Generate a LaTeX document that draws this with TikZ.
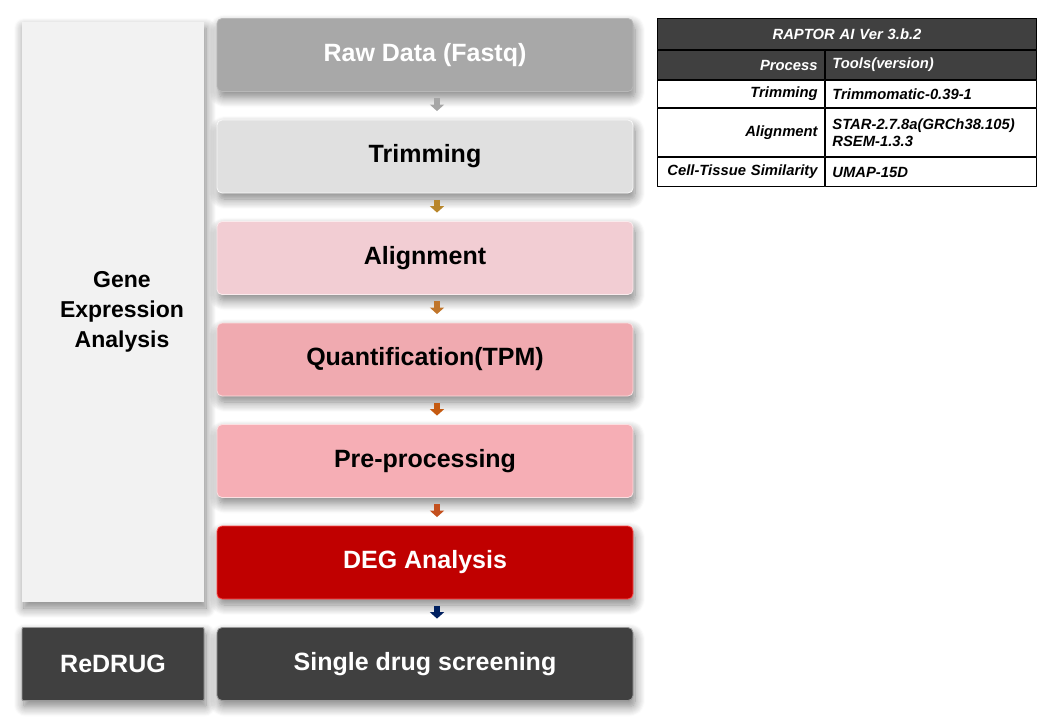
\documentclass[tikz,border=0pt]{standalone}
\usepackage{fontspec}
\setmainfont{Liberation Sans}
\usetikzlibrary{
  arrows.meta,
  positioning,
  shadows.blur
}
\definecolor{ink}{HTML}{000000}
\definecolor{rawgray}{HTML}{999999}
\definecolor{trimgray}{HTML}{E0E0E0}
\definecolor{alignpink}{HTML}{F2CDD3}
\definecolor{quantpink}{HTML}{F0AAB0}
\definecolor{prepink}{HTML}{F6AEB5}
\definecolor{degred}{HTML}{C00000}
\definecolor{darkgray}{HTML}{404040}
\definecolor{panelbg}{HTML}{F2F2F2}
\definecolor{arr1}{HTML}{A6A6A6}
\definecolor{arr2}{HTML}{B8862B}
\definecolor{arr3}{HTML}{C0752A}
\definecolor{arr4}{HTML}{C55A11}
\definecolor{arr5}{HTML}{C4501E}
\definecolor{arr6}{HTML}{002060}
\tikzset{
  every picture/.style={line cap=round, line join=round},
  shadow/.style={
    blur shadow={
      shadow blur steps=10,
      shadow blur radius=10pt,
      shadow xshift=2pt,
      shadow yshift=-6pt,
      shadow opacity=50
    }
  },
  flowbox/.style={
    rectangle,
    rounded corners=5pt,
    minimum width=416pt,
    minimum height=73pt,
    inner sep=0pt,
    line width=0.8pt,
    font=\fontsize{25}{30}\selectfont\bfseries,
    shadow
  },
  rawbox/.style={flowbox, top color=rawgray!85, bottom color=rawgray!110!black, draw=rawgray!70, text=white},
  trimbox/.style={flowbox, fill=trimgray, draw=white!80!trimgray, text=ink},
  alignbox/.style={flowbox, fill=alignpink, draw=white!60!alignpink, text=ink},
  quantbox/.style={flowbox, fill=quantpink, draw=white!60!quantpink, text=ink},
  prebox/.style={flowbox, fill=prepink, draw=white!60!prepink, text=ink},
  degbox/.style={flowbox, fill=degred, draw=red!70!white, text=white},
  darkbox/.style={flowbox, fill=darkgray, draw=gray!80, text=white},
  panel/.style={
    rectangle,
    fill=panelbg,
    minimum width=182pt,
    minimum height=580pt,
    shadow
  },
  paneltext/.style={
    align=center,
    font=\fontsize{23}{30}\selectfont\bfseries,
    text=ink
  },
  flowarrow/.style={
    line width=6pt,
    line cap=butt,
    -{Triangle[width=14pt,length=6.5pt]},
    shorten <=6.5pt,
    shorten >=8.5pt
  },
  tcell/.style={
    rectangle,
    draw=ink,
    line width=0.8pt,
    inner xsep=7pt,
    inner ysep=0pt,
    font=\fontsize{14.8}{17}\selectfont\bfseries\itshape,
    text=ink,
    anchor=north west
  },
  tleft/.style={tcell, text width=153.2pt, align=right},
  tright/.style={tcell, text width=197.2pt, align=left},
  tdark/.style={fill=darkgray, text=white}
}

\begin{document}
\begin{tikzpicture}[x=1pt, y=-1pt]
  \useasboundingbox (0,0) rectangle (1059,717);

  % Left panel
  \node[panel] (gea) at (113,312) {};
  \node[paneltext] (geatext) at ([xshift=9pt]gea.center) {Gene\\Expression\\Analysis};

  % Workflow boxes
  \node[rawbox] (raw) at (425,55) {Raw Data (Fastq)};
  \node[trimbox, below=27.7pt of raw] (trim) {Trimming};
  \node[alignbox, below=27.7pt of trim] (align) {Alignment};
  \node[quantbox, below=27.7pt of align] (quant) {Quantification(TPM)};
  \node[prebox, below=27.7pt of quant] (prep) {Pre-processing};
  \node[degbox, below=27.7pt of prep] (deg) {DEG Analysis};
  \node[darkbox, below=27.7pt of deg] (drug) {Single drug screening};
  \node[darkbox, rounded corners=1pt, minimum width=182pt] (redrug) at (gea |- drug) {ReDRUG};

  % Small arrows between steps
  \draw[flowarrow, draw=arr1] ([xshift=12pt]raw.south) -- ([xshift=12pt]trim.north);
  \draw[flowarrow, draw=arr2] ([xshift=12pt]trim.south) -- ([xshift=12pt]align.north);
  \draw[flowarrow, draw=arr3] ([xshift=12pt]align.south) -- ([xshift=12pt]quant.north);
  \draw[flowarrow, draw=arr4] ([xshift=12pt]quant.south) -- ([xshift=12pt]prep.north);
  \draw[flowarrow, draw=arr5] ([xshift=12pt]prep.south) -- ([xshift=12pt]deg.north);
  \draw[flowarrow, draw=arr6] ([xshift=12pt]deg.south) -- ([xshift=12pt]drug.north);

  % Version table
  \node[tcell, tdark, text width=365.2pt, align=center, minimum height=31.2pt] (title) at (657,18) {RAPTOR AI Ver 3.b.2};
  \node[tleft, tdark, minimum height=29.2pt] (hproc) at (title.south west) {Process};
  \node[tright, tdark, minimum height=29.2pt] (htool) at (hproc.north east) {Tools(version)};
  \node[tleft, minimum height=27.2pt] (ptrim) at (hproc.south west) {Trimming};
  \node[tright, minimum height=27.2pt] (vtrim) at (ptrim.north east) {Trimmomatic-0.39-1};
  \node[tleft, minimum height=48.2pt] (palign) at (ptrim.south west) {Alignment};
  \node[tright, minimum height=48.2pt] (valign) at (palign.north east) {STAR-2.7.8a(GRCh38.105)\\RSEM-1.3.3};
  \node[tleft, minimum height=29.2pt] (pcell) at (palign.south west) {Cell-Tissue Similarity};
  \node[tright, minimum height=29.2pt] (vcell) at (pcell.north east) {UMAP-15D};
\end{tikzpicture}
\end{document}
